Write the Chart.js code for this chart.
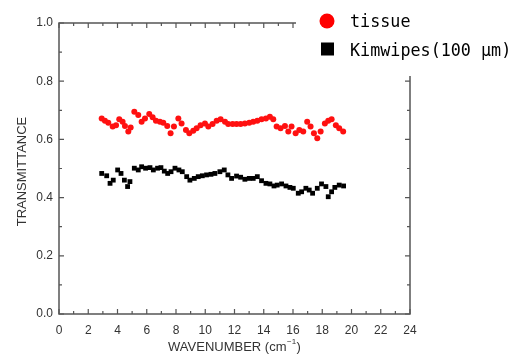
<!DOCTYPE html>
<html><head><meta charset="utf-8">
<script src="https://cdn.jsdelivr.net/npm/chart.js@4"></script>
<style>html,body{margin:0;padding:0;background:#fff}#wrap{width:517px;height:356px}</style>
</head><body><div id="wrap"><canvas id="c" width="517" height="356"></canvas></div>
<script>
// Data
const tissueX = [2.92,3.14,3.37,3.67,3.90,4.12,4.35,4.51,4.74,4.90,5.15,5.42,5.65,5.88,6.17,6.40,6.63,6.90,7.13,7.40,7.63,7.86,8.16,8.38,8.68,8.91,9.18,9.41,9.68,9.98,10.21,10.50,10.78,11.05,11.35,11.57,11.87,12.14,12.42,12.71,13.01,13.28,13.56,13.85,14.15,14.42,14.65,14.88,15.15,15.45,15.68,15.90,16.18,16.43,16.70,16.97,17.20,17.43,17.66,17.89,18.18,18.41,18.64,18.93,19.16,19.43];
const tissueY = [0.672,0.664,0.657,0.644,0.649,0.669,0.661,0.646,0.627,0.641,0.695,0.684,0.661,0.672,0.687,0.676,0.664,0.661,0.657,0.646,0.621,0.644,0.672,0.655,0.632,0.621,0.630,0.638,0.649,0.655,0.644,0.653,0.664,0.669,0.661,0.653,0.653,0.653,0.653,0.655,0.657,0.661,0.664,0.669,0.672,0.678,0.669,0.644,0.638,0.646,0.627,0.644,0.621,0.632,0.627,0.661,0.644,0.621,0.604,0.627,0.655,0.664,0.669,0.649,0.638,0.627];
const kimX = [2.92,3.26,3.49,3.71,4.01,4.24,4.47,4.69,4.85,5.15,5.42,5.65,5.92,6.22,6.45,6.74,6.97,7.20,7.43,7.66,7.93,8.20,8.43,8.73,8.95,9.25,9.52,9.80,10.09,10.39,10.66,11.00,11.30,11.55,11.80,12.14,12.42,12.71,13.01,13.28,13.56,13.85,14.15,14.42,14.70,14.92,15.22,15.52,15.79,16.02,16.36,16.59,16.88,17.11,17.34,17.66,17.95,18.25,18.41,18.64,18.86,19.16,19.46];
const kimY = [0.483,0.475,0.449,0.460,0.495,0.483,0.460,0.438,0.455,0.501,0.495,0.506,0.501,0.503,0.495,0.501,0.503,0.491,0.483,0.489,0.501,0.495,0.489,0.472,0.460,0.466,0.472,0.475,0.478,0.480,0.483,0.489,0.495,0.478,0.466,0.474,0.470,0.463,0.466,0.466,0.472,0.458,0.449,0.447,0.440,0.443,0.447,0.440,0.435,0.432,0.415,0.420,0.432,0.426,0.415,0.432,0.447,0.438,0.403,0.420,0.435,0.443,0.440];
const xTicks = [0,2,4,6,8,10,12,14,16,18,20,22,24];
const yTicks = [0.0,0.2,0.4,0.6,0.8,1.0];
const seriesNames = ['tissue', 'Kimwipes(100 \u00b5m)'];
const xTitle = 'WAVENUMBER (cm';
const xTitleSup = '\u22121';
const yTitle = 'TRANSMITTANCE';

const toPts = (xs, ys) => xs.map((x, i) => ({x: x, y: ys[i]}));

const framePlugin = {
  id: 'frame',
  afterDraw(chart) {
    const ctx = chart.ctx, a = chart.chartArea;
    const xs = chart.scales.x, ys = chart.scales.y;
    ctx.save();
    ctx.strokeStyle = '#555';
    ctx.lineWidth = 1.5;
    ctx.strokeRect(a.left, a.top, a.right - a.left, a.bottom - a.top);
    ctx.lineWidth = 1.2;
    ctx.beginPath();
    for (let v = xs.min; v <= xs.max; v += 1) {
      const p = xs.getPixelForValue(v);
      const L = (v % 2 === 0) ? 5 : 3;
      ctx.moveTo(p, a.bottom); ctx.lineTo(p, a.bottom - L);
      ctx.moveTo(p, a.top); ctx.lineTo(p, a.top + L);
    }
    for (let k = 0; k <= 10; k++) {
      const p = ys.getPixelForValue(k / 10);
      const L = (k % 2 === 0) ? 5 : 3;
      ctx.moveTo(a.left, p); ctx.lineTo(a.left + L, p);
      ctx.moveTo(a.right, p); ctx.lineTo(a.right - L, p);
    }
    ctx.stroke();
    // axis titles
    ctx.fillStyle = '#333';
    ctx.font = '13px "Liberation Sans", Arial, sans-serif';
    ctx.textBaseline = 'middle';
    const w1 = ctx.measureText(xTitle).width;
    ctx.font = '8px "Liberation Sans", Arial, sans-serif';
    const w2 = ctx.measureText(xTitleSup).width;
    ctx.font = '13px "Liberation Sans", Arial, sans-serif';
    const w3 = ctx.measureText(')').width;
    const cx = (a.left + a.right) / 2;
    let x0 = cx - (w1 + w2 + w3 + 1) / 2;
    ctx.textAlign = 'left';
    ctx.fillText(xTitle, x0, 347);
    ctx.font = '8px "Liberation Sans", Arial, sans-serif';
    ctx.fillText(xTitleSup, x0 + w1 + 0.5, 342);
    ctx.font = '13px "Liberation Sans", Arial, sans-serif';
    ctx.fillText(')', x0 + w1 + w2 + 1, 347);
    ctx.save();
    ctx.translate(22, (a.top + a.bottom) / 2 + 3);
    ctx.rotate(-Math.PI / 2);
    ctx.textAlign = 'center';
    ctx.fillText(yTitle, 0, 0);
    ctx.restore();
    // legend with white background
    ctx.fillStyle = '#fff';
    ctx.fillRect(296, 0, 221, 76);
    ctx.fillStyle = '#ff0000';
    ctx.beginPath(); ctx.arc(327, 21, 7.5, 0, Math.PI * 2); ctx.fill();
    ctx.fillStyle = '#000';
    ctx.fillRect(321, 42.5, 13, 13);
    ctx.font = '18px "DejaVu Sans Mono", "Liberation Mono", monospace';
    ctx.textBaseline = 'alphabetic';
    ctx.textAlign = 'left';
    ctx.save();
    ctx.translate(350, 0);
    ctx.scale(0.93, 1);
    ctx.fillText(seriesNames[0], 0, 27);
    ctx.fillText(seriesNames[1], 0, 56);
    ctx.restore();
    ctx.restore();
  }
};

new Chart(document.getElementById('c'), {
  type: 'scatter',
  data: {
    datasets: [
      { label: seriesNames[0], data: toPts(tissueX, tissueY), pointStyle: 'circle', pointRadius: 3, backgroundColor: '#ff1010', borderColor: '#ff1010', borderWidth: 0 },
      { label: seriesNames[1], data: toPts(kimX, kimY), pointStyle: 'rect', pointRadius: 3.4, backgroundColor: '#000', borderColor: '#000', borderWidth: 0 }
    ]
  },
  options: {
    responsive: false,
    animation: false,
    events: [],
    layout: { padding: { left: 0, top: 23, right: 107, bottom: 0 } },
    plugins: { legend: { display: false }, tooltip: { enabled: false } },
    scales: {
      x: {
        type: 'linear', min: 0, max: 24,
        afterFit(s) { s.height = 42; },
        afterBuildTicks(s) { s.ticks = xTicks.map(v => ({value: v})); },
        grid: { display: false, drawTicks: false },
        border: { display: false },
        ticks: { color: '#333', padding: 9, maxRotation: 0, font: { family: '"Liberation Sans", Arial, sans-serif', size: 12 }, callback: v => String(v) }
      },
      y: {
        type: 'linear', min: 0, max: 1,
        afterFit(s) { s.width = 59; },
        afterBuildTicks(s) { s.ticks = yTicks.map(v => ({value: v})); },
        grid: { display: false, drawTicks: false },
        border: { display: false },
        ticks: { color: '#333', padding: 6, font: { family: '"Liberation Sans", Arial, sans-serif', size: 12 }, callback: v => Number(v).toFixed(1) }
      }
    }
  },
  plugins: [framePlugin]
});
</script></body></html>
